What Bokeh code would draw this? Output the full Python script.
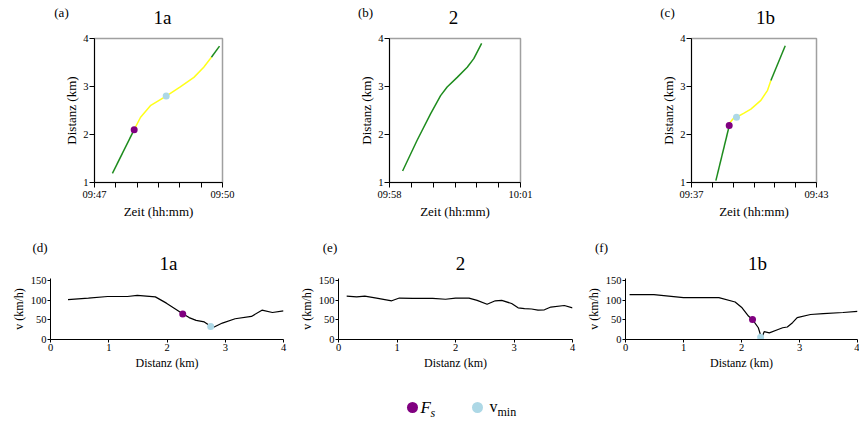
from bokeh.plotting import figure
from bokeh.layouts import column, row
from bokeh.models import Range1d, FixedTicker
from bokeh.embed import file_html
from bokeh.resources import INLINE
from bokeh.core.properties import value

FONT = "Liberation Serif"
GREEN = "#1e8c1e"
YELLOW = "#ffff1a"
PURPLE = "#800080"
LIGHTBLUE = "#add8e6"

# ---------------- top panels: time (min after start) vs distance (km) ----------------
a_green1_t = [0.42, 0.93]
a_green1_d = [1.19, 2.10]
a_yellow_t = [0.93, 1.08, 1.31, 1.68, 2.01, 2.33, 2.56, 2.74]
a_yellow_d = [2.10, 2.36, 2.60, 2.80, 2.99, 3.19, 3.40, 3.61]
a_green2_t = [2.74, 2.93]
a_green2_d = [3.61, 3.84]
a_fs = (0.93, 2.10)
a_vmin = (1.68, 2.80)

b_green_t = [0.30, 0.63, 0.94, 1.17, 1.32, 1.55, 1.78, 1.93, 2.11]
b_green_d = [1.24, 1.875, 2.43, 2.81, 2.99, 3.19, 3.40, 3.58, 3.90]

c_green1_t = [1.17, 1.85]
c_green1_d = [1.04, 2.25]
c_yellow_t = [1.85, 2.00, 2.16, 2.50, 2.85, 3.33, 3.65, 3.81]
c_yellow_d = [2.25, 2.33, 2.36, 2.44, 2.53, 2.71, 2.92, 3.125]
c_green2_t = [3.81, 4.50]
c_green2_d = [3.125, 3.85]
c_fs = (1.81, 2.19)
c_vmin = (2.16, 2.36)

top_titles = ["1a", "2", "1b"]
top_letters = ["(a)", "(b)", "(c)"]
top_start_labels = ["09:47", "09:58", "09:37"]
top_end_labels = ["09:50", "10:01", "09:43"]
top_spans = [3, 3, 6]
top_steps = [0.5, 0.5, 1]

# ---------------- bottom panels: distance (km) vs speed (km/h) ----------------
d_dist = [0.30, 0.65, 0.98, 1.32, 1.49, 1.80, 1.99, 2.27, 2.38, 2.50, 2.64, 2.75, 2.81,
          2.95, 3.17, 3.45, 3.63, 3.81, 4.00]
d_speed = [102, 106, 110, 110, 113, 109, 93, 66, 56, 49, 45, 34, 32, 42, 53, 59, 75, 69, 73]
d_fs = (2.27, 65)
d_vmin = (2.75, 33)

e_dist = [0.14, 0.31, 0.45, 0.65, 0.91, 1.04, 1.27, 1.61, 1.83, 2.00, 2.23, 2.37, 2.54,
          2.68, 2.79, 2.96, 3.07, 3.18, 3.30, 3.41, 3.52, 3.63, 3.86, 4.00]
e_speed = [111, 109, 111, 106, 99, 106, 105, 105, 103, 106, 106, 100, 90, 99, 100, 92, 81,
           79, 78, 75, 76, 83, 87, 81]

f_dist = [0.07, 0.49, 1.00, 1.61, 1.89, 2.01, 2.12, 2.20, 2.29, 2.33, 2.35, 2.39, 2.48,
          2.62, 2.71, 2.79, 2.88, 2.96, 3.19, 3.41, 3.75, 4.00]
f_speed = [115, 115, 107, 107, 96, 81, 60, 49, 30, 11, 4, 20, 17, 25, 30, 32, 43, 56, 64,
           66, 69, 72]
f_fs = (2.19, 51)
f_vmin = (2.33, 6)

bottom_titles = ["1a", "2", "1b"]
bottom_letters = ["(d)", "(e)", "(f)"]
bottom_xticks = [0, 1, 2, 3, 4]
bottom_yticks = [0, 50, 100, 150]


def blank(width, height):
    p = figure(width=width, height=height, x_range=Range1d(0, width),
               y_range=Range1d(0, height), output_backend="svg",
               toolbar_location=None, min_border=0)
    p.axis.visible = False
    p.xgrid.visible = False
    p.ygrid.visible = False
    p.outline_line_color = None
    p.background_fill_color = "white"
    p.border_fill_color = "white"
    return p


def header(width, height, letters, lxs, ly, titles, txs, ty):
    h = blank(width, height)
    h.text(lxs, [ly] * len(lxs), text=letters, text_font=value(FONT), text_font_size="13px",
           text_align="center", text_baseline="middle", text_color="black")
    h.text(txs, [ty] * len(txs), text=titles, text_font=value(FONT), text_font_size="19px",
           text_align="center", text_baseline="middle", text_color="black")
    return h


def style_common(p):
    p.xgrid.visible = False
    p.ygrid.visible = False
    p.background_fill_color = "white"
    p.border_fill_color = "white"
    p.axis.axis_label_text_font = FONT
    p.axis.axis_label_text_font_style = "normal"
    p.axis.axis_label_text_color = "black"
    p.axis.major_label_text_font = FONT
    p.axis.major_label_text_color = "black"
    p.axis.axis_line_color = "black"
    p.axis.major_tick_line_color = "black"
    p.axis.minor_tick_line_color = None
    p.axis.major_tick_in = 0


def top_panel(i, segments, marks, width, bl, br):
    span = top_spans[i]
    step = top_steps[i]
    p = figure(width=width, height=200, min_border_left=bl, min_border_right=br,
               min_border_top=8, min_border_bottom=48,
               x_range=Range1d(0, span), y_range=Range1d(1, 4),
               output_backend="svg", toolbar_location=None)
    style_common(p)
    p.outline_line_color = "#a0a0a0"
    p.outline_line_width = 1.5
    ticks = [k * step for k in range(int(round(span / step)) + 1)]
    p.xaxis.ticker = FixedTicker(ticks=ticks)
    overrides = {t: "" for t in ticks}
    overrides[ticks[0]] = top_start_labels[i]
    overrides[ticks[-1]] = top_end_labels[i]
    p.xaxis.major_label_overrides = overrides
    p.yaxis.ticker = FixedTicker(ticks=[1, 2, 3, 4])
    p.xaxis.axis_label = "Zeit (hh:mm)"
    p.yaxis.axis_label = "Distanz (km)"
    p.axis.axis_label_text_font_size = "13px"
    p.axis.major_label_text_font_size = "10.5px"
    p.axis.major_tick_out = 5
    p.axis.major_label_standoff = 1
    p.axis.axis_label_standoff = 1
    for (ts, ds, col) in segments:
        p.line(ts, ds, line_color=col, line_width=1.5)
    for (pt, col) in marks:
        p.scatter([pt[0]], [pt[1]], size=7, fill_color=col, line_color=None)
    return p


def bottom_panel(i, dist, speed, marks, width, bl, br):
    p = figure(width=width, height=105, min_border_left=bl, min_border_right=br,
               min_border_top=4, min_border_bottom=40,
               x_range=Range1d(0, 4), y_range=Range1d(0, 156),
               output_backend="svg", toolbar_location=None)
    style_common(p)
    p.outline_line_color = None
    p.xaxis.ticker = FixedTicker(ticks=bottom_xticks)
    p.yaxis.ticker = FixedTicker(ticks=bottom_yticks)
    p.xaxis.axis_label = "Distanz (km)"
    p.yaxis.axis_label = "v (km/h)"
    p.axis.axis_label_text_font_size = "12px"
    p.axis.major_label_text_font_size = "10.5px"
    p.axis.major_tick_out = 3
    p.axis.major_label_standoff = 1
    p.axis.axis_label_standoff = 2
    p.line(dist, speed, line_color="black", line_width=1.2)
    for (pt, col) in marks:
        p.scatter([pt[0]], [pt[1]], size=7, fill_color=col, line_color=None)
    return p


pa = top_panel(0, [(a_green1_t, a_green1_d, GREEN), (a_yellow_t, a_yellow_d, YELLOW),
                   (a_green2_t, a_green2_d, GREEN)],
               [(a_fs, PURPLE), (a_vmin, LIGHTBLUE)], 292, 86, 78)
pb = top_panel(1, [(b_green_t, b_green_d, GREEN)], [], 290, 89, 70)
pc = top_panel(2, [(c_green1_t, c_green1_d, GREEN), (c_yellow_t, c_yellow_d, YELLOW),
                   (c_green2_t, c_green2_d, GREEN)],
               [(c_fs, PURPLE), (c_vmin, LIGHTBLUE)], 269, 101, 43)

top_header = header(851, 30, top_letters, [53, 357, 659], 18,
                    top_titles, [154, 445, 757], 13)

pd = bottom_panel(0, d_dist, d_speed, [(d_fs, PURPLE), (d_vmin, LIGHTBLUE)], 288, 37, 13)
pe = bottom_panel(1, e_dist, e_speed, [], 287, 39, 11)
pf = bottom_panel(2, f_dist, f_speed, [(f_fs, PURPLE), (f_vmin, LIGHTBLUE)], 276, 38, 2)

bottom_header = header(851, 44, bottom_letters, [31.5, 321.5, 593], 27,
                       bottom_titles, [160, 452, 749], 11.5)

# ---------------- legend strip ----------------
leg = blank(851, 40)
leg.scatter([404], [12], size=11, fill_color=PURPLE, line_color=None)
leg.scatter([469], [12], size=11, fill_color=LIGHTBLUE, line_color=None)
leg.text([412], [12], text=["F"], text_font=value(FONT), text_font_style="italic",
         text_font_size="17px", text_baseline="middle", text_color="black")
leg.text([422], [7], text=["s"], text_font=value(FONT), text_font_style="italic",
         text_font_size="12px", text_baseline="middle", text_color="black")
leg.text([481], [13], text=["v"], text_font=value(FONT),
         text_font_size="16px", text_baseline="middle", text_color="black")
leg.text([489], [8], text=["min"], text_font=value(FONT),
         text_font_size="12px", text_baseline="middle", text_color="black")

layout = column(
    top_header,
    row(pa, pb, pc),
    bottom_header,
    row(pd, pe, pf),
    leg,
    margin=(0, 0, 0, 8),
)
open("out.html", "w").write(file_html(layout, INLINE))
